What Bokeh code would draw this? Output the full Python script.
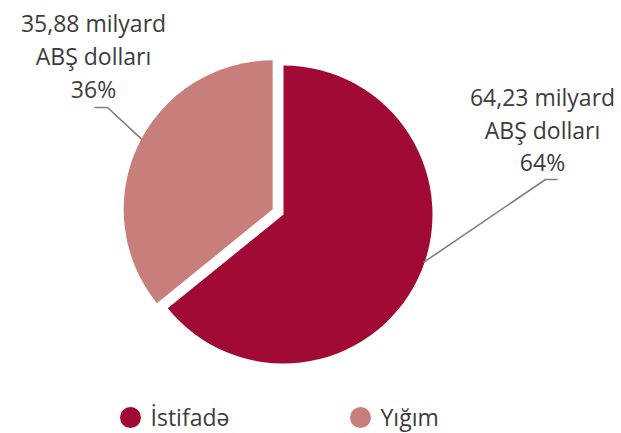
import math
from bokeh.plotting import figure
from bokeh.models import Range1d, ColumnDataSource
from bokeh.core.properties import value
from bokeh.embed import file_html
from bokeh.resources import INLINE

# ---- data ----
names = ["İstifadə", "Yığım"]
amounts = [64.23, 35.88]          # milyard ABŞ dolları
colors = ["#A00A34", "#C87E7B"]
unit_line = "ABŞ dolları"

FONT = "Open Sans"
TEXT_COLOR = "#3c3c3c"
FS = "23px"

W, H = 621, 433
def Y(sy):
    return H - sy

p = figure(width=W, height=H, output_backend="svg", toolbar_location=None,
           x_range=Range1d(0, W), y_range=Range1d(0, H),
           min_border=0, outline_line_color=None)
p.axis.visible = False
p.grid.visible = False
p.background_fill_color = "white"
p.border_fill_color = "white"

cx, cy, R = 283, Y(214), 149
explode = [0, 12]

total = sum(amounts)
# first slice clockwise from 12 o'clock, second anticlockwise from 12 o'clock
sweeps = [v / total * 2 * math.pi for v in amounts]
starts = [math.pi / 2 - sweeps[0], math.pi / 2]
ends = [math.pi / 2, math.pi / 2 + sweeps[1]]
xs, ys = [], []
for a0, a1, ex in zip(starts, ends, explode):
    mid = (a0 + a1) / 2
    xs.append(cx + ex * math.cos(mid))
    ys.append(cy + ex * math.sin(mid))

src = ColumnDataSource(dict(x=xs, y=ys, s=starts, e=ends, c=colors))
p.wedge(x="x", y="y", radius=R, radius_units="screen", start_angle="s", end_angle="e",
        fill_color="c", line_color=None, source=src)

# ---- labels ----
def fmt(v):
    return f"{v:.2f}".replace(".", ",") + " milyard"

pcts = [round(v / total * 100) for v in amounts]
label_cx = [542, 93]
label_mid = [[96, 129, 161], [22, 55, 88]]
tx, ty, tt = [], [], []
for i in range(2):
    rows = [fmt(amounts[i]), unit_line, f"{pcts[i]}%"]
    for r, m in zip(rows, label_mid[i]):
        tx.append(label_cx[i]); ty.append(Y(m)); tt.append(r)
p.text(x=tx, y=ty, text=tt, text_font=value(FONT), text_font_size=FS,
       text_color=TEXT_COLOR, text_align="center", text_baseline="middle")

# leader lines
lead_ang = [math.radians(-18.9), math.radians(151.9)]
elbows = [(545, 179), (107, 107)]
tails = [(557, 179), (94, 107)]
for i in range(2):
    sx = xs[i] + (R - 1) * math.cos(lead_ang[i])
    sy = ys[i] + (R - 1) * math.sin(lead_ang[i])
    p.line(x=[sx, elbows[i][0], tails[i][0]], y=[sy, Y(elbows[i][1]), Y(tails[i][1])],
           line_color="#7f7f7f", line_width=1.6)

# ---- legend ----
leg_x = [130, 360]
leg_y = Y(417)
p.scatter(x=leg_x, y=[leg_y] * 2, size=21, marker="circle", fill_color=colors, line_color=None)
p.text(x=[lx + 20 for lx in leg_x], y=[Y(416)] * 2, text=names, text_font=value(FONT),
       text_font_size=FS, text_color=TEXT_COLOR, text_align="left", text_baseline="middle")

open("out.html", "w").write(file_html(p, INLINE))
